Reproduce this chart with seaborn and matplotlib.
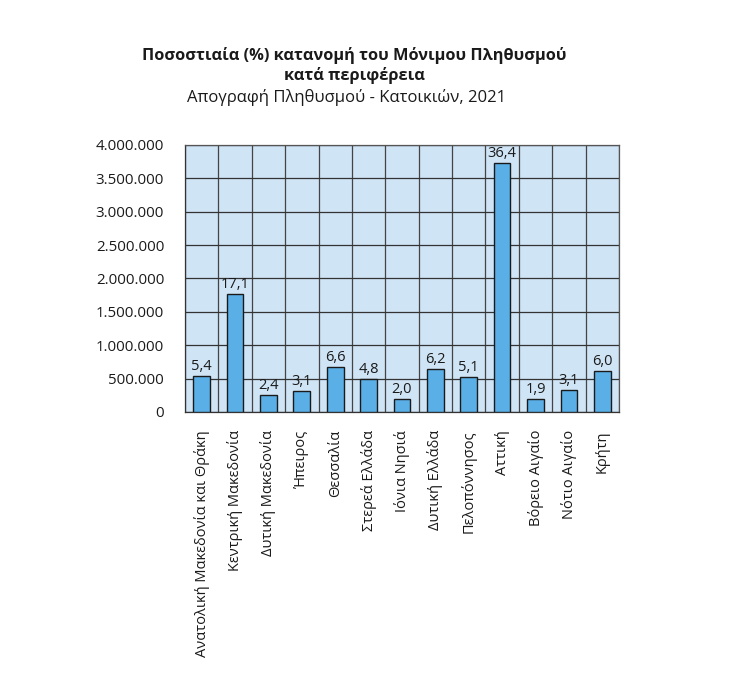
import matplotlib
matplotlib.use("Agg")
import matplotlib.pyplot as plt
import seaborn as sns
import pandas as pd
from matplotlib.ticker import FuncFormatter, FixedLocator

regions = ["Ανατολική Μακεδονία και Θράκη", "Κεντρική Μακεδονία", "Δυτική Μακεδονία",
           "Ήπειρος", "Θεσσαλία", "Στερεά Ελλάδα", "Ιόνια Νησιά", "Δυτική Ελλάδα",
           "Πελοπόννησος", "Αττική", "Βόρειο Αιγαίο", "Νότιο Αιγαίο", "Κρήτη"]
population = [545000, 1768000, 255000, 315000, 674000, 500000, 200000, 640000,
              530000, 3735000, 195000, 325000, 614000]
percent = [5.4, 17.1, 2.4, 3.1, 6.6, 4.8, 2.0, 6.2, 5.1, 36.4, 1.9, 3.1, 6.0]
y_ticks = [0, 500000, 1000000, 1500000, 2000000, 2500000, 3000000, 3500000, 4000000]

title1 = "Ποσοστιαία (%) κατανομή του Μόνιμου Πληθυσμού"
title2 = "κατά περιφέρεια"
subtitle = "Απογραφή Πληθυσμού - Κατοικιών, 2021"

sns.set_theme(style="white")
plt.rcParams['font.family'] = ['Open Sans', 'DejaVu Sans']

df = pd.DataFrame({"region": regions, "population": population, "percent": percent})

fig = plt.figure(figsize=(7.49, 6.99), dpi=100)
ax = fig.add_axes([0.247, 0.4106, 0.5794, 0.382])
ax.set_facecolor("#cfe4f5")

sns.barplot(data=df, x="region", y="population", color="#5aafe6", width=0.5,
            edgecolor="#1a1a1a", linewidth=1.0, saturation=1, ax=ax, zorder=3)

ax.set_xlim(-0.5, len(regions) - 0.5)
ax.set_ylim(0, 4000000)
ax.set_xlabel("")
ax.set_ylabel("")

ax.yaxis.set_major_locator(FixedLocator(y_ticks))
ax.yaxis.set_major_formatter(FuncFormatter(lambda v, p: f"{int(v):,}".replace(",", ".")))
ax.set_xticks(range(len(regions)))
ax.set_xticklabels(regions, rotation=90, fontsize=10.5, color="#1a1a1a")
ax.set_xticks([i + 0.5 for i in range(-1, len(regions))], minor=True)

ax.tick_params(axis="x", which="major", length=0, pad=13)
ax.tick_params(axis="x", which="minor", length=7, width=1, color="#333333", direction="out")
ax.tick_params(axis="y", which="major", length=7, width=1, color="#333333",
               direction="out", pad=8, labelsize=10.8, labelcolor="#1a1a1a")

ax.grid(True, axis="y", which="major", color="#333333", linewidth=0.9, zorder=1)
ax.grid(True, axis="x", which="minor", color="#444444", linewidth=0.9, zorder=1)
ax.grid(False, axis="x", which="major")
ax.set_axisbelow(True)

for s in ax.spines.values():
    s.set_color("#555555")
    s.set_linewidth(0.9)
ax.spines["bottom"].set_color("#333333")
ax.spines["left"].set_color("#333333")

for i, (p, pc) in enumerate(zip(population, percent)):
    ax.annotate(f"{pc:.1f}".replace(".", ","), (i, p), xytext=(0, 1.5),
                textcoords="offset points", ha="center", va="bottom",
                fontsize=10.5, color="#1a1a1a", zorder=5)

fig.text(0.473, 0.921, title1, ha="center", va="center", fontsize=11.8,
         fontweight="bold", color="#1a1a1a")
fig.text(0.473, 0.892, title2, ha="center", va="center", fontsize=11.8,
         fontweight="bold", color="#1a1a1a")
fig.text(0.462, 0.861, subtitle, ha="center", va="center", fontsize=12,
         color="#1a1a1a")

fig.savefig("out.png", dpi=100)
